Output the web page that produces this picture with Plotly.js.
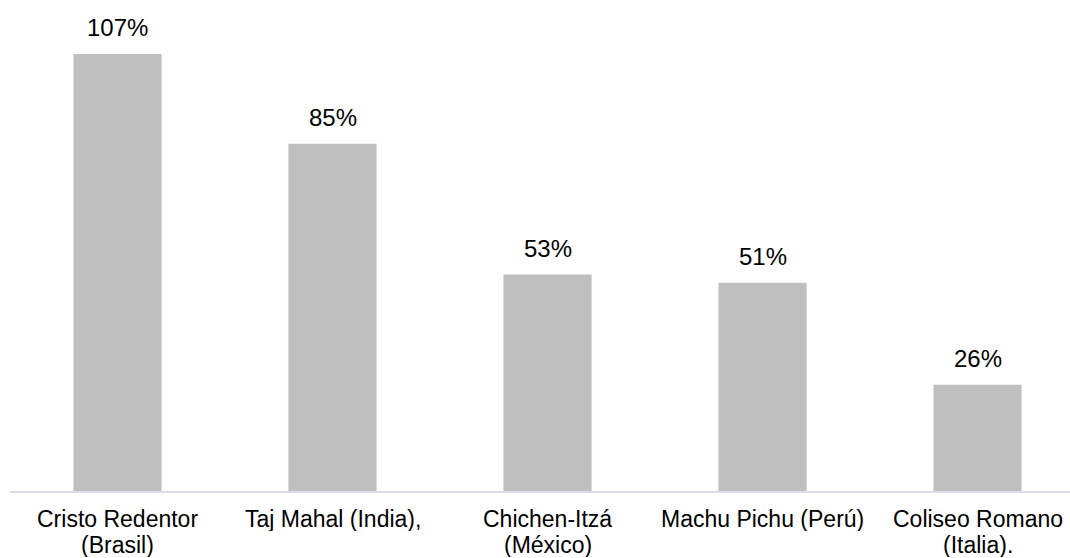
<!DOCTYPE html>
<html>
<head>
<meta charset="utf-8">
<script src="https://cdn.plot.ly/plotly-3.0.1.min.js"></script>
<style>html,body{margin:0;padding:0;background:#fff;}#chart{width:1070px;height:558px;}</style>
</head>
<body>
<div id="chart"></div>
<script>
const labelLine1 = ["Cristo Redentor", "Taj Mahal (India),", "Chichen-Itzá", "Machu Pichu (Perú)", "Coliseo Romano"];
const labelLine2 = ["(Brasil)", "", "(México)", "", "(Italia)."];
const values = [107, 85, 53, 51, 26];
const valueLabels = ["107%", "85%", "53%", "51%", "26%"];
const positions = [0, 1, 2, 3, 4];

const font = "Liberation Sans, Arial, sans-serif";

const trace = {
  type: "bar",
  x: positions,
  y: values,
  width: 0.41,
  marker: {color: "#bfbfbf"},
  hoverinfo: "skip"
};

const annotations = [];
positions.forEach((p, i) => {
  annotations.push({
    x: p, y: values[i], xref: "x", yref: "y",
    text: valueLabels[i], showarrow: false,
    yanchor: "bottom", yshift: 11,
    font: {family: font, size: 24, color: "#000"}
  });
  annotations.push({
    x: p, y: 0, xref: "x", yref: "paper",
    text: labelLine1[i], showarrow: false,
    yanchor: "middle", yshift: -28, height: 24, borderpad: 0,
    font: {family: font, size: 23, color: "#000"}
  });
  if (labelLine2[i]) {
    annotations.push({
      x: p, y: 0, xref: "x", yref: "paper",
      text: labelLine2[i], showarrow: false,
      yanchor: "middle", yshift: -54, height: 24, borderpad: 0,
      font: {family: font, size: 23, color: "#000"}
    });
  }
});

const layout = {
  width: 1070, height: 558,
  margin: {l: 10, r: 0, t: 0, b: 67},
  paper_bgcolor: "#fff", plot_bgcolor: "#fff",
  showlegend: false,
  xaxis: {
    range: [-0.5, 4.43],
    showticklabels: false,
    showline: true, linecolor: "#d9dde4", linewidth: 1.5,
    showgrid: false, zeroline: false, ticks: "",
    fixedrange: true
  },
  yaxis: {
    range: [0, 120.2],
    visible: false, showgrid: false, zeroline: false
  },
  annotations: annotations
};

Plotly.newPlot("chart", [trace], layout, {displayModeBar: false, staticPlot: true});
</script>
</body>
</html>
